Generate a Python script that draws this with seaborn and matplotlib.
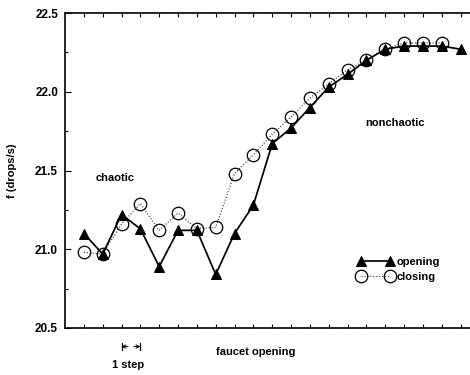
import numpy as np
import pandas as pd
import matplotlib
matplotlib.use("Agg")
import matplotlib.pyplot as plt
from matplotlib.ticker import MultipleLocator, NullFormatter
import seaborn as sns

# ---- data ----
opening_step = list(range(21))
opening_f = [21.10, 20.97, 21.22, 21.13, 20.89, 21.12, 21.12, 20.84, 21.10, 21.28,
             21.67, 21.77, 21.90, 22.03, 22.11, 22.20, 22.27, 22.29, 22.29, 22.29, 22.27]
closing_step = list(range(20))
closing_f = [20.98, 20.97, 21.16, 21.29, 21.12, 21.23, 21.13, 21.14, 21.48, 21.60,
             21.73, 21.84, 21.96, 22.05, 22.14, 22.20, 22.27, 22.31, 22.31, 22.31]
y_ticks = [20.5, 21.0, 21.5, 22.0, 22.5]
y_ticklabels = ["20.5", "21.0", "21.5", "22.0", "22.5"]

sns.set_style("ticks")
plt.rcParams["font.family"] = ["Liberation Sans", "DejaVu Sans"]
plt.rcParams["font.weight"] = "bold"
plt.rcParams["text.color"] = "black"
plt.rcParams["axes.labelcolor"] = "black"
plt.rcParams["xtick.color"] = "black"
plt.rcParams["ytick.color"] = "black"

fig = plt.figure(figsize=(4.7, 3.75), dpi=100)
ax = fig.add_axes([65 / 470, 1 - 328 / 375, 405 / 470, 315 / 375])

df_open = pd.DataFrame({"step": opening_step, "f": opening_f})
df_close = pd.DataFrame({"step": closing_step, "f": closing_f})

sns.lineplot(data=df_close, x="step", y="f", ax=ax, color="#333333", lw=0.8,
             linestyle=":", marker="o", markersize=9, markerfacecolor="none",
             markeredgecolor="black", markeredgewidth=0.9, label="closing")
sns.lineplot(data=df_open, x="step", y="f", ax=ax, color="black", lw=1.25,
             marker="^", markersize=6.8, markerfacecolor="black",
             markeredgecolor="black", label="opening")

ax.set_xlim(-1, 20.5)
ax.set_ylim(20.5, 22.5)
ax.set_yticks(y_ticks)
ax.set_yticklabels(y_ticklabels, fontsize=8.5, fontweight="bold", color="black")
ax.yaxis.set_minor_locator(MultipleLocator(0.25))
ax.set_xticks(opening_step)
ax.xaxis.set_major_formatter(NullFormatter())
ax.tick_params(axis="x", which="both", direction="in", top=True, bottom=True,
               length=3, width=0.8)
ax.tick_params(axis="y", which="major", direction="in", left=True, right=False,
               length=4, width=0.8, pad=5)
ax.tick_params(axis="y", which="minor", direction="in", left=True, right=False,
               length=2.5, width=0.8)
for s in ["left", "bottom", "top"]:
    ax.spines[s].set_linewidth(1.2)
    ax.spines[s].set_color("black")
ax.spines["right"].set_visible(False)

ax.set_xlabel("faucet opening", fontsize=8, fontweight="bold")
ax.xaxis.set_label_coords(0.472, -0.06)
ax.set_ylabel("f (drops/s)", fontsize=8, fontweight="bold")
ax.yaxis.set_label_coords(-0.118, 0.5)

ax.text(1.65, 21.45, "chaotic", fontsize=8, fontweight="bold", ha="center", va="center")
ax.text(16.5, 21.80, "nonchaotic", fontsize=8, fontweight="bold", ha="center", va="center")

# "1 step" marker below the axis
tr = ax.get_xaxis_transform()
yb = -0.059
for xb in (2, 3):
    ax.plot([xb, xb], [yb - 0.012, yb + 0.012], color="black", lw=0.9,
            transform=tr, clip_on=False)
ax.annotate("", xy=(2, yb), xytext=(2.35, yb), xycoords=tr, textcoords=tr,
            arrowprops=dict(arrowstyle="->", lw=0.7, color="black",
                            shrinkA=0, shrinkB=0, mutation_scale=6))
ax.annotate("", xy=(3, yb), xytext=(2.65, yb), xycoords=tr, textcoords=tr,
            arrowprops=dict(arrowstyle="->", lw=0.7, color="black",
                            shrinkA=0, shrinkB=0, mutation_scale=6))
ax.text(2.35, -0.117, "1 step", transform=tr, fontsize=8, fontweight="bold",
        ha="center", va="center")

handles, labels = ax.get_legend_handles_labels()
order = [labels.index("opening"), labels.index("closing")]
leg = ax.legend([handles[i] for i in order], [labels[i] for i in order],
                loc="upper left", bbox_to_anchor=(0.722, 0.225), frameon=False,
                numpoints=2, handlelength=3.2, handletextpad=0.35,
                labelspacing=0.4, borderpad=0, borderaxespad=0,
                prop={"size": 8, "weight": "bold"})

fig.savefig("out.png", dpi=100)
